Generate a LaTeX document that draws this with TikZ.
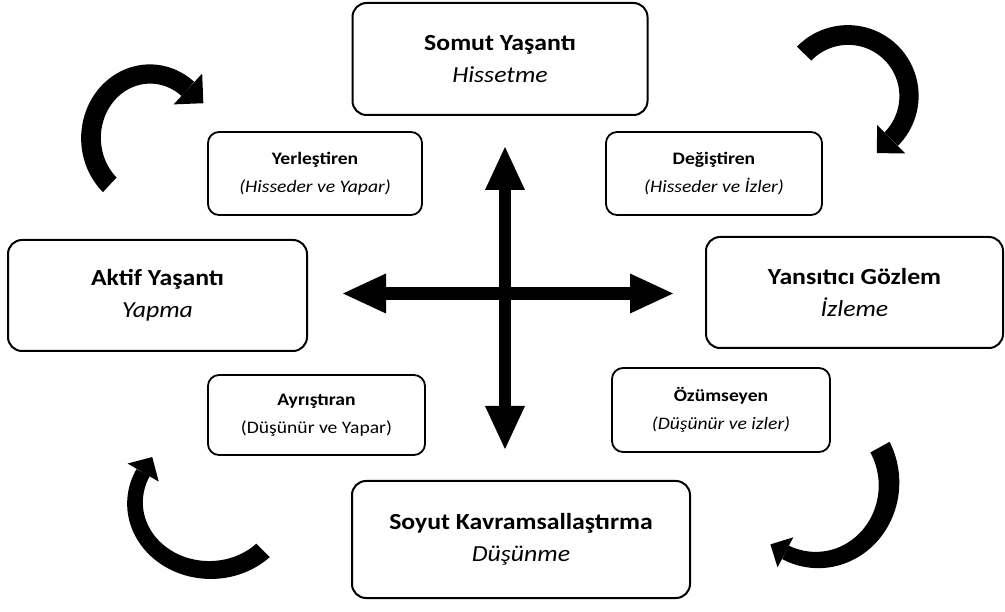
\documentclass[tikz,border=0pt]{standalone}
\usepackage{fontspec}
\setmainfont{Carlito}[FakeStretch=1.12]
\usetikzlibrary{arrows.meta,calc}

% Thick curved arrow along an elliptic arc: band from angle #5 to #6,
% centre (#1,#2), radii #3/#4, band width #7 -> #8, head width #9.
\newcommand\bentarrow[9]{%
  \fill[arrowfill]
    plot[domain=#5:#6, samples=80, variable=\t]
      ({#1+(#3+0.5*(#7+(#8-#7)*(\t-(#5))/((#6)-(#5))))*cos(\t)},
       {#2+(#4+0.5*(#7+(#8-#7)*(\t-(#5))/((#6)-(#5))))*sin(\t)})
    -- plot[domain=#6:#5, samples=80, variable=\t]
      ({#1+(#3-0.5*(#7+(#8-#7)*(\t-(#5))/((#6)-(#5))))*cos(\t)},
       {#2+(#4-0.5*(#7+(#8-#7)*(\t-(#5))/((#6)-(#5))))*sin(\t)})
    -- cycle;
  \coordinate (hb) at ({#1+#3*cos(#6)},{#2+#4*sin(#6)});
  \coordinate (hd) at ({#1+#3*cos(#6+1)},{#2+#4*sin(#6+1)});
  \fill[arrowfill] ($(hb)!{0.5*#9*1pt}!90:(hd)$)
    -- ($(hb)!{0.5*#9*1pt}!(hd)$)
    -- ($(hb)!{0.5*#9*1pt}!-90:(hd)$) -- cycle;
}

\begin{document}
\begin{tikzpicture}[x=1pt,y=-1pt,
  bigbox/.style={draw=black, line width=2pt, rounded corners=14pt,
    align=center, inner sep=0pt, font=\fontsize{23}{32}\selectfont},
  smallbox/.style={draw=black, line width=1.8pt, rounded corners=11pt,
    align=center, inner sep=0pt, font=\fontsize{17.5}{28}\selectfont},
  arrowfill/.style={fill=black},
  crossarrow/.style={line width=12.5pt,
    {Triangle[length=43pt,width=40pt,line width=0pt]}-{Triangle[length=43pt,width=40pt,line width=0pt]}}]

\useasboundingbox (0,0) rectangle (1005,612);

% the four learning modes
\node[bigbox, minimum width=295pt, minimum height=112pt] (somut) at (500,59)
  {\textbf{Somut Yaşantı}\\\textit{Hissetme}};
\node[bigbox, minimum width=299pt, minimum height=111pt] (aktif) at (157.5,295.5)
  {\textbf{Aktif Yaşantı}\\\textit{Yapma}};
\node[bigbox, minimum width=297pt, minimum height=111pt] (yansitici) at (854.5,292.5)
  {\textbf{Yansıtıcı Gözlem}\\\textit{İzleme}};
\node[bigbox, minimum width=338pt, minimum height=117pt] (soyut) at (521,539.5)
  {\textbf{Soyut Kavramsallaştırma}\\\textit{Düşünme}};

% the four learning styles
\node[smallbox, minimum width=214pt, minimum height=83pt] (yerlestiren) at (315,173.5)
  {\textbf{Yerleştiren}\\\textit{(Hisseder ve Yapar)}};
\node[smallbox, minimum width=216pt, minimum height=83pt] (degistiren) at (714,173.5)
  {\textbf{Değiştiren}\\\textit{(Hisseder ve İzler)}};
\node[smallbox, minimum width=217pt, minimum height=80pt] (ayristiran) at (316.5,415)
  {\textbf{Ayrıştıran}\\(Düşünür ve Yapar)};
\node[smallbox, minimum width=218pt, minimum height=84pt] (ozumseyen) at (721,410)
  {\textbf{Özümseyen}\\\textit{(Düşünür ve izler)}};

% central cross
\coordinate (ctop) at (505,147);
\coordinate (cbot) at (505,449);
\coordinate (cleft) at (343,293.5);
\coordinate (cright) at (673,293.5);
\draw[crossarrow] (cleft) -- (cright);
\draw[crossarrow] (ctop) -- (cbot);

% curved arrows in the corners
\bentarrow{150}{138}{59}{64}{133}{310}{20}{19}{42}
\bentarrow{848}{96}{61}{61}{224}{405}{20}{19}{40}
\bentarrow{210}{503}{75}{67}{45}{207}{19}{15}{36}
\bentarrow{817}{484}{72}{76}{-29}{116}{22}{15}{34}
\end{tikzpicture}
\end{document}
